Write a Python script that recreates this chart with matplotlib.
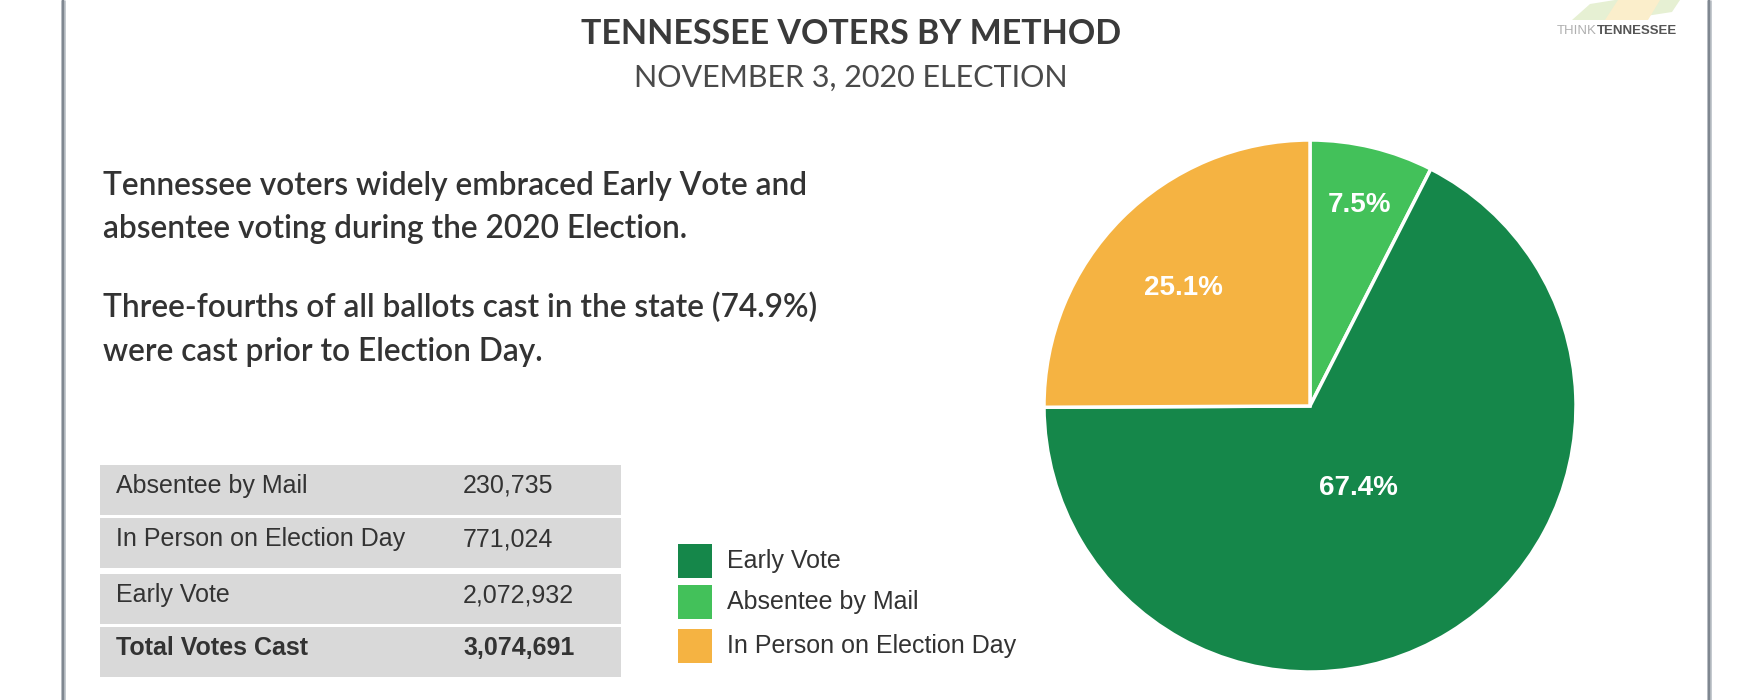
import numpy as np
import matplotlib.pyplot as plt
from matplotlib.patches import Rectangle, Polygon

# datos
methods = ["Absentee by Mail", "Early Vote", "In Person on Election Day"]
votes = [230735, 2072932, 771024]
colors = ["#43c15a", "#15874a", "#f5b342"]

table_labels = ["Absentee by Mail", "In Person on Election Day", "Early Vote", "Total Votes Cast"]
table_values = ["230,735", "771,024", "2,072,932", "3,074,691"]

legend_labels = ["Early Vote", "Absentee by Mail", "In Person on Election Day"]
legend_colors = ["#15874a", "#43c15a", "#f5b342"]

title = "TENNESSEE VOTERS BY METHOD"
subtitle = "NOVEMBER 3, 2020 ELECTION"
paragraph = ["Tennessee voters widely embraced Early Vote and",
             "absentee voting during the 2020 Election.",
             "Three-fourths of all ballots cast in the state (74.9%)",
             "were cast prior to Election Day."]

W, H = 1746, 700
fig = plt.figure(figsize=(W/100, H/100), dpi=100)
fig.patch.set_facecolor("white")

# capa de fondo en pixeles
bg = fig.add_axes([0, 0, 1, 1])
bg.set_xlim(0, W); bg.set_ylim(H, 0); bg.axis("off")

# bordes laterales
for x in (63, 1709):
    bg.plot([x, x], [0, H], color="#bcc2c8", lw=3.4, solid_capstyle="butt")
    bg.plot([x, x], [0, H], color="#7f8790", lw=1.7, solid_capstyle="butt")

# titulos
bg.text(851, 44, title, ha="center", va="baseline", fontsize=24.5, fontfamily="Lato",
        fontweight="bold", color="#3a3a3a")
bg.text(851, 87, subtitle, ha="center", va="baseline", fontsize=22, fontfamily="Lato",
        fontweight="normal", color="#4a4a4a")

# logo
bg.add_patch(Polygon([[1572, 20], [1590, 4], [1615, 0], [1680, 0], [1672, 12], [1620, 20]],
                     closed=True, facecolor="#e6f0d3", edgecolor="none"))
bg.add_patch(Polygon([[1605, 20], [1618, 0], [1660, 0], [1648, 20]],
                     closed=True, facecolor="#fbeecb", edgecolor="none"))
t1 = bg.text(1557, 31, "THINK", ha="left", va="center", fontsize=9.5,
             fontfamily="Liberation Sans", color="#b0b0b0")
bg.annotate("TENNESSEE", xy=(1, 0.5), xycoords=t1, ha="left", va="center", fontsize=9.5,
            fontfamily="Liberation Sans", fontweight="bold", color="#555555")

# parrafo
para_y = [195, 238, 317, 361]
for txt, y in zip(paragraph, para_y):
    bg.text(103, y, txt, ha="left", va="baseline", fontsize=22.8, fontfamily="Lato",
            fontweight="semibold", color="#333333")

# tabla
row_tops = [465, 518, 574, 627]
row_h = 50
for i, (lab, val) in enumerate(zip(table_labels, table_values)):
    y0 = row_tops[i]
    bg.add_patch(Rectangle((100, y0), 521, row_h, facecolor="#d9d9d9", edgecolor="none"))
    fw = "bold" if i == len(table_labels) - 1 else "normal"
    bg.text(116, y0 + row_h/2 - 4, lab, ha="left", va="center", fontsize=18,
            fontfamily="Liberation Sans", fontweight=fw, color="#333333")
    bg.text(463, y0 + row_h/2 - 4, val, ha="left", va="center", fontsize=18,
            fontfamily="Liberation Sans", fontweight=fw, color="#333333")

# leyenda
leg_y = [561, 602, 646]
for lab, c, y in zip(legend_labels, legend_colors, leg_y):
    bg.add_patch(Rectangle((678, y - 17), 34, 34, facecolor=c, edgecolor="none"))
    bg.text(727, y, lab, ha="left", va="center", fontsize=18,
            fontfamily="Liberation Sans", color="#333333")

# pastel
cx, cy, r = 1310, 406, 266
ax = fig.add_axes([(cx - r)/W, (H - cy - r)/H, 2*r/W, 2*r/H])
wedges, _ = ax.pie(votes, colors=colors, startangle=90, counterclock=False, radius=1,
                   wedgeprops=dict(edgecolor="white", linewidth=2.5))
ax.set_xlim(-1, 1); ax.set_ylim(-1, 1); ax.set_aspect("equal"); ax.axis("off")

total = sum(votes)
label_r = [0.79, 0.35, 0.67]
label_dy = [-0.013, -0.01, -0.03]
for w, v, rr, dy in zip(wedges, votes, label_r, label_dy):
    ang = np.deg2rad((w.theta1 + w.theta2)/2)
    ax.text(rr*np.cos(ang), rr*np.sin(ang) + dy, f"{100*v/total:.1f}%", ha="center", va="center",
            fontsize=20, fontfamily="Liberation Sans", fontweight="bold", color="white")

plt.savefig("out.png", dpi=100)
